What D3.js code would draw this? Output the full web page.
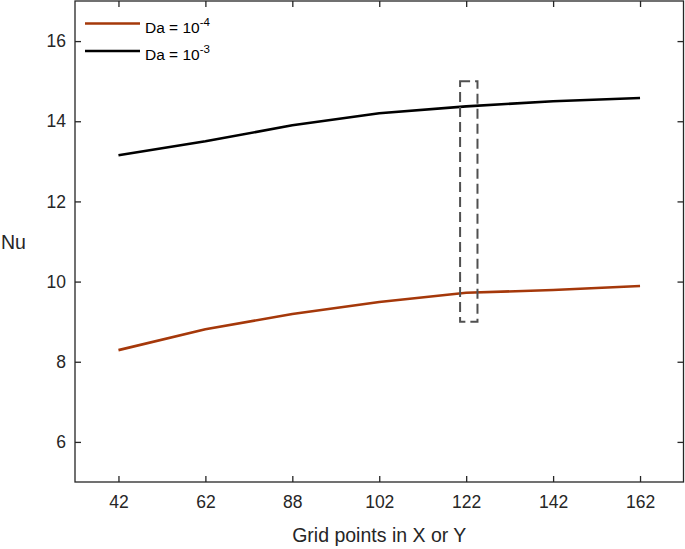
<!DOCTYPE html>
<html><head><meta charset="utf-8">
<script src="https://cdn.jsdelivr.net/npm/d3@7"></script>
<style>body{margin:0;background:#fff}svg{display:block;font-family:"Liberation Sans",Arial,sans-serif}</style>
</head><body>
<svg id="c" width="685" height="549"></svg>
<script>
const categories = ["42","62","88","102","122","142","162"];
const seriesNames = ["Da = 10", "Da = 10"];
const seriesExp = ["-4", "-3"];
const nuDa4 = [8.29, 8.81, 9.19, 9.49, 9.72, 9.79, 9.89];
const nuDa3 = [13.15, 13.50, 13.90, 14.20, 14.37, 14.50, 14.58];
const yTicks = [6, 8, 10, 12, 14, 16];
const boxX = [3.93, 4.13];   // annotation box in category-index units
const boxY = [9, 15];

const W = 685, H = 549;
const m = {l: 75, r: 1.5, t: 1, b: 67};
const svg = d3.select("#c");
const x = d3.scaleLinear().domain([-0.5, 6.5]).range([m.l, W - m.r]);
const y = d3.scaleLinear().domain([5, 17]).range([H - m.b, m.t]);
const axisCol = "#262626";

// box
svg.append("rect").attr("x", x.range()[0]).attr("y", y.range()[1])
  .attr("width", x.range()[1]-x.range()[0]).attr("height", y.range()[0]-y.range()[1])
  .attr("fill", "none").attr("stroke", axisCol).attr("stroke-width", 1.3);

const tickLen = 6;
const idx = categories.map((d,i)=>i);
// bottom axis
const gx = svg.append("g").attr("transform", `translate(0,${y.range()[0]})`)
  .call(d3.axisBottom(x).tickValues(idx).tickFormat(i=>categories[i]).tickSize(-tickLen).tickPadding(14));
const gxt = svg.append("g").attr("transform", `translate(0,${y.range()[1]})`)
  .call(d3.axisTop(x).tickValues(idx).tickFormat("").tickSize(-tickLen));
const gy = svg.append("g").attr("transform", `translate(${x.range()[0]},0)`)
  .call(d3.axisLeft(y).tickValues(yTicks).tickSize(-tickLen).tickPadding(9));
const gyr = svg.append("g").attr("transform", `translate(${x.range()[1]},0)`)
  .call(d3.axisRight(y).tickValues(yTicks).tickFormat("").tickSize(-tickLen));
[gx,gxt,gy,gyr].forEach(g=>{
  g.select(".domain").remove();
  g.selectAll(".tick line").attr("stroke", axisCol).attr("stroke-width", 1.3);
  g.selectAll("text").attr("fill", axisCol).attr("font-size", 17.5).attr("font-family", '"Liberation Sans",Arial,sans-serif');
});

// lines
const line = d3.line().x((d,i)=>x(i)).y(d=>y(d));
const colors = ["#A5380A", "#000000"];
[nuDa4, nuDa3].forEach((s,k)=>{
  svg.append("path").datum(s).attr("d", line).attr("fill","none")
    .attr("stroke", colors[k]).attr("stroke-width", 2.6).attr("stroke-linejoin","round");
});

// dashed annotation box
svg.append("rect").attr("x", x(boxX[0])).attr("y", y(boxY[1]))
  .attr("width", x(boxX[1]) - x(boxX[0])).attr("height", y(boxY[0]) - y(boxY[1]))
  .attr("fill","none").attr("stroke","#505050").attr("stroke-width",2)
  .attr("stroke-dasharray","10,5");

// axis labels
svg.append("text").attr("x", (x.range()[0]+x.range()[1])/2).attr("y", 542)
  .attr("text-anchor","middle").attr("font-size",19.5).attr("fill", axisCol).text("Grid points in X or Y");
svg.append("text").attr("x", 1).attr("y", (y.range()[0]+y.range()[1])/2 + 7)
  .attr("text-anchor","start").attr("font-size",19.5).attr("fill", axisCol).text("Nu");

// legend
const lg = svg.append("g");
[0,1].forEach(k=>{
  const ly = 23.5 + k*27.5;
  lg.append("line").attr("x1",85).attr("x2",140).attr("y1",ly).attr("y2",ly)
    .attr("stroke",colors[k]).attr("stroke-width",2.6);
  const t = lg.append("text").attr("x",145).attr("y",ly+9).attr("font-size",15.5).attr("fill","#000");
  t.append("tspan").text(seriesNames[k]);
  t.append("tspan").attr("dy",-7).attr("font-size",11.5).text(seriesExp[k]);
});
</script>
</body></html>
